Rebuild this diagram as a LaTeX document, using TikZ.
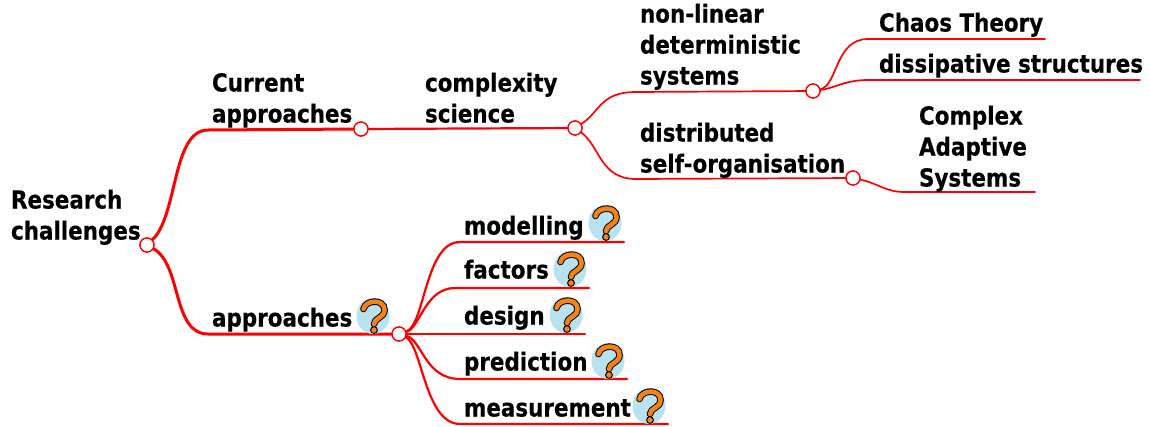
\documentclass[tikz,border=0pt]{standalone}
\usepackage{fontspec}
\setmainfont{DejaVu Sans}[BoldFont={DejaVu Sans Bold},BoldFeatures={FakeStretch=0.865,FakeBold=0.35}]
\definecolor{mapred}{RGB}{255,0,0}
\definecolor{iconblue}{RGB}{184,226,240}
\definecolor{iconorange}{RGB}{245,130,20}
\tikzset{
  x=1pt,y=-1pt,
  label/.style={inner sep=0pt,outer sep=0pt,anchor=base west,align=left,font=\bfseries\fontsize{24.8}{31}\selectfont},
  joint/.style={circle,draw=mapred,fill=white,line width=1.3pt,minimum size=14pt,inner sep=0pt},
  thick branch/.style={draw=mapred,line width=3pt,line cap=round},
  mid branch/.style={draw=mapred,line width=2.2pt,line cap=round},
  thin branch/.style={draw=mapred,line width=1.7pt,line cap=round},
  qmark/.pic={
    \fill[iconblue] (0,0) ellipse [x radius=16.5,y radius=18];
    \draw[black,line width=6.6pt,line cap=round] (-9.5,-7) .. controls (-7.5,-16.5) and (11.5,-17.5) .. (11.5,-6) .. controls (11.5,2) and (1,2) .. (1,8);
    \draw[iconorange,line width=4.6pt,line cap=round] (-9.5,-7) .. controls (-7.5,-16.5) and (11.5,-17.5) .. (11.5,-6) .. controls (11.5,2) and (1,2) .. (1,8);
    \fill[iconorange,draw=black,line width=1pt] (1,14) circle (3.4);
  }
}
\begin{document}
\begin{tikzpicture}
\useasboundingbox (0,0) rectangle (1149,426);
% joints
\node[joint] (root) at (147,245) {};
\node[joint] (cur) at (361,129) {};
\node[joint] (cplx) at (575,128) {};
\node[joint] (nl) at (813,91) {};
\node[joint] (ds) at (853,178) {};
\node[joint] (app) at (399,334) {};
% free ends
\coordinate (e1) at (1045,39);
\coordinate (e2) at (1140,80);
\coordinate (e3) at (1035,192);
\coordinate (m1) at (624,242);
\coordinate (m2) at (589,288);
\coordinate (m3) at (585,334);
\coordinate (m4) at (627,379);
\coordinate (m5) at (668,424);
% connectors
\path[thick branch] (root) .. controls (178,215) and (172,130) .. (208,130) -- (cur);
\path[thick branch] (root) .. controls (182,265) and (172,334) .. (208,334) -- (app);
\path[mid branch] (cur) -- (cplx);
\path[thin branch] (cplx) .. controls (600,112) and (600,92) .. (636,92) -- (nl);
\path[thin branch] (cplx) .. controls (600,146) and (600,179) .. (636,179) -- (ds);
\path[thin branch] (nl) .. controls (838,85) and (835,39) .. (868,39) -- (e1);
\path[thin branch] (nl) .. controls (835,88) and (845,80) .. (868,80) -- (e2);
\path[thin branch] (ds) .. controls (880,184) and (885,192) .. (905,192) -- (e3);
\path[mid branch] (app) .. controls (425,325) and (425,242) .. (460,242) -- (m1);
\path[mid branch] (app) .. controls (420,328) and (425,288) .. (455,288) -- (m2);
\path[mid branch] (app) -- (m3);
\path[mid branch] (app) .. controls (422,340) and (425,379) .. (460,379) -- (m4);
\path[mid branch] (app) .. controls (422,345) and (425,424) .. (460,424) -- (m5);
\node[joint] at (root) {};
\node[joint] at (cur) {};
\node[joint] at (cplx) {};
\node[joint] at (nl) {};
\node[joint] at (ds) {};
\node[joint] at (app) {};
% labels
\node[label] (t1) at (11,239.5) {Research\\challenges};
\node[label] (t2) at (212,122.5) {Current\\approaches};
\node[label] (t3) at (212,326.5) {approaches};
\node[label] (t4) at (425,122.5) {complexity\\science};
\node[label] (t5) at (640,84.5) {non-linear\\deterministic\\systems};
\node[label] (t6) at (640,172.5) {distributed\\self-organisation};
\node[label] (t7) at (879,31.5) {Chaos Theory};
\node[label] (t8) at (879,72.5) {dissipative structures};
\node[label] (t9) at (919,186.5) {Complex\\Adaptive\\Systems};
\node[label] (t10) at (464,234.5) {modelling};
\node[label] (t11) at (464,278.5) {factors};
\node[label] (t12) at (464,324.5) {design};
\node[label] (t13) at (464,370.5) {prediction};
\node[label] (t14) at (464,416.5) {measurement};
% icons
\pic at (373,316) {qmark};
\pic at (605,223) {qmark};
\pic at (570,269) {qmark};
\pic at (566,315) {qmark};
\pic at (608,361) {qmark};
\pic at (649,406) {qmark};
\end{tikzpicture}
\end{document}
